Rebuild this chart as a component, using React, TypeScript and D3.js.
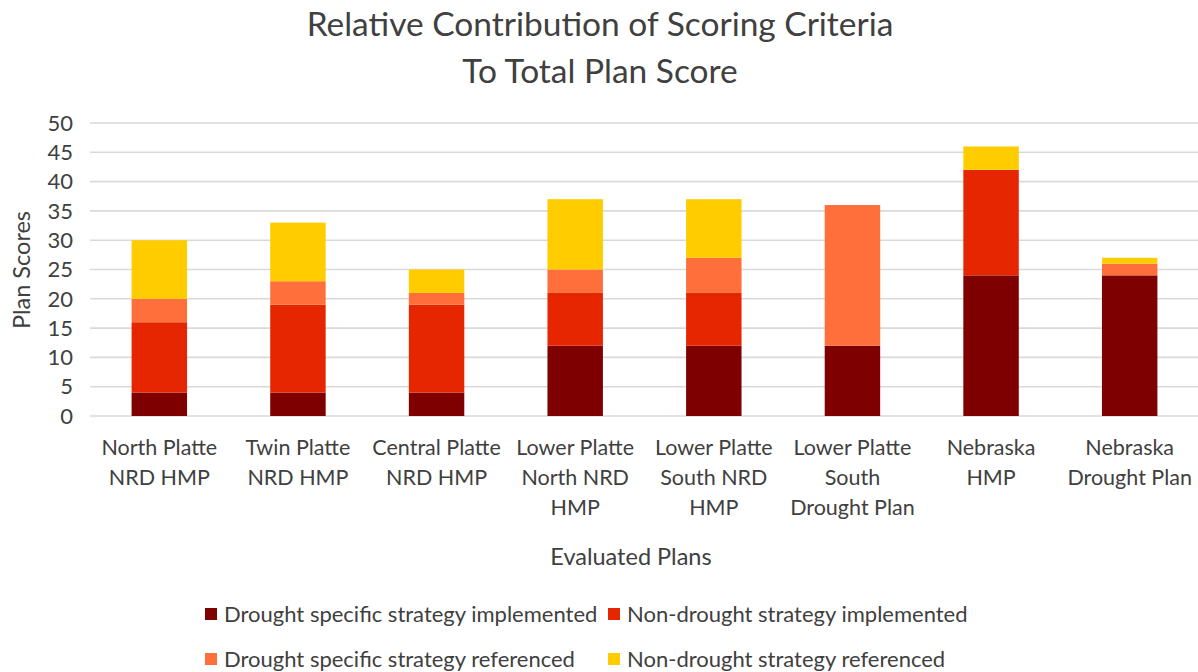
import React, { useEffect, useRef } from 'react';
import * as d3 from 'd3';

// Plans evaluated (multi-line labels as drawn under each bar)
const plans: string[][] = [
    ['North Platte', 'NRD HMP'],
    ['Twin Platte', 'NRD HMP'],
    ['Central Platte', 'NRD HMP'],
    ['Lower Platte', 'North NRD', 'HMP'],
    ['Lower Platte', 'South NRD', 'HMP'],
    ['Lower Platte', 'South', 'Drought Plan'],
    ['Nebraska', 'HMP'],
    ['Nebraska', 'Drought Plan'],
];

const droughtImplemented = [4, 4, 4, 12, 12, 12, 24, 24];
const nonDroughtImplemented = [12, 15, 15, 9, 9, 0, 18, 0];
const droughtReferenced = [4, 4, 2, 4, 6, 24, 0, 2];
const nonDroughtReferenced = [10, 10, 4, 12, 10, 0, 4, 1];

const seriesNames = [
    'Drought specific strategy implemented',
    'Non-drought strategy implemented',
    'Drought specific strategy referenced',
    'Non-drought strategy referenced',
];
const seriesColors = ['#7f0000', '#e62600', '#ff6f3b', '#ffcc00'];

const yTicks = [0, 5, 10, 15, 20, 25, 30, 35, 40, 45, 50];

const FONT = 'Lato, "Open Sans", sans-serif';
const TEXT = '#404040';

export default function App() {
    const svgRef = useRef<SVGSVGElement>(null);

    useEffect(() => {
        if (!svgRef.current) return;
        const width = 1198;
        const height = 672;
        const margin = { top: 123, right: 0, bottom: 256, left: 90 };

        const svg = d3.select(svgRef.current)
            .attr('width', width)
            .attr('height', height)
            .style('font-family', FONT);
        svg.selectAll('*').remove();

        const keys = plans.map(p => p.join(' '));
        const rows = keys.map((k, i) => ({
            key: k,
            s0: droughtImplemented[i],
            s1: nonDroughtImplemented[i],
            s2: droughtReferenced[i],
            s3: nonDroughtReferenced[i],
        }));

        const x = d3.scaleBand<string>()
            .domain(keys)
            .range([margin.left, width + 1])
            .paddingInner(0.6)
            .paddingOuter(0.3);

        const y = d3.scaleLinear()
            .domain([0, 50])
            .range([height - margin.bottom, margin.top]);

        // gridlines
        svg.append('g')
            .selectAll('line')
            .data(yTicks)
            .enter()
            .append('line')
            .attr('x1', margin.left)
            .attr('x2', width)
            .attr('y1', d => y(d))
            .attr('y2', d => y(d))
            .attr('stroke', '#d9d9d9')
            .attr('stroke-width', 1.6);

        // y tick labels
        svg.append('g')
            .selectAll('text')
            .data(yTicks)
            .enter()
            .append('text')
            .attr('x', 73)
            .attr('y', d => y(d))
            .attr('dy', '0.35em')
            .attr('text-anchor', 'end')
            .attr('font-size', 22)
            .attr('fill', TEXT)
            .text(d => d);

        // stacked bars
        const stack = d3.stack<any>().keys(['s0', 's1', 's2', 's3']);
        const layers = stack(rows);

        svg.append('g')
            .selectAll('g')
            .data(layers)
            .enter()
            .append('g')
            .attr('fill', (_, i) => seriesColors[i])
            .selectAll('rect')
            .data(d => d)
            .enter()
            .append('rect')
            .attr('x', d => x(d.data.key)!)
            .attr('width', x.bandwidth())
            .attr('y', d => y(d[1]))
            .attr('height', d => y(d[0]) - y(d[1]));

        // x category labels
        const xl = svg.append('g')
            .selectAll('text')
            .data(plans)
            .enter()
            .append('text')
            .attr('text-anchor', 'middle')
            .attr('font-size', 21.5)
            .attr('fill', TEXT)
            .attr('x', (_, i) => x(keys[i])! + x.bandwidth() / 2)
            .attr('y', 455);
        xl.selectAll('tspan')
            .data(d => d)
            .enter()
            .append('tspan')
            .attr('x', function () {
                return (this as SVGTSpanElement).parentElement!.getAttribute('x');
            })
            .attr('dy', (_, i) => (i === 0 ? 0 : 30))
            .text(d => d);

        // title
        svg.append('text')
            .attr('x', 600)
            .attr('y', 36)
            .attr('text-anchor', 'middle')
            .attr('font-size', 33.5)
            .attr('fill', TEXT)
            .text('Relative Contribution of Scoring Criteria');
        svg.append('text')
            .attr('x', 600)
            .attr('y', 83)
            .attr('text-anchor', 'middle')
            .attr('font-size', 33.5)
            .attr('fill', TEXT)
            .text('To Total Plan Score');

        // axis titles
        svg.append('text')
            .attr('transform', 'translate(30,270) rotate(-90)')
            .attr('text-anchor', 'middle')
            .attr('font-size', 23.5)
            .attr('fill', TEXT)
            .text('Plan Scores');
        svg.append('text')
            .attr('x', 631)
            .attr('y', 565)
            .attr('text-anchor', 'middle')
            .attr('font-size', 23.5)
            .attr('fill', TEXT)
            .text('Evaluated Plans');

        // legend
        const legendPos = [
            { x: 205, y: 614 },
            { x: 608, y: 614 },
            { x: 205, y: 659 },
            { x: 608, y: 659 },
        ];
        const lg = svg.append('g')
            .selectAll('g')
            .data(seriesNames)
            .enter()
            .append('g')
            .attr('transform', (_, i) => `translate(${legendPos[i].x},${legendPos[i].y})`);
        lg.append('rect')
            .attr('x', 0)
            .attr('y', -6)
            .attr('width', 12)
            .attr('height', 12)
            .attr('fill', (_, i) => seriesColors[i]);
        lg.append('text')
            .attr('x', 19)
            .attr('y', 0)
            .attr('dy', '0.35em')
            .attr('font-size', 22)
            .attr('fill', TEXT)
            .text(d => d);
    }, []);

    return (
        <svg ref={svgRef} style={{ position: 'absolute', left: 0, top: 0, background: '#fff' }}></svg>
    );
}
